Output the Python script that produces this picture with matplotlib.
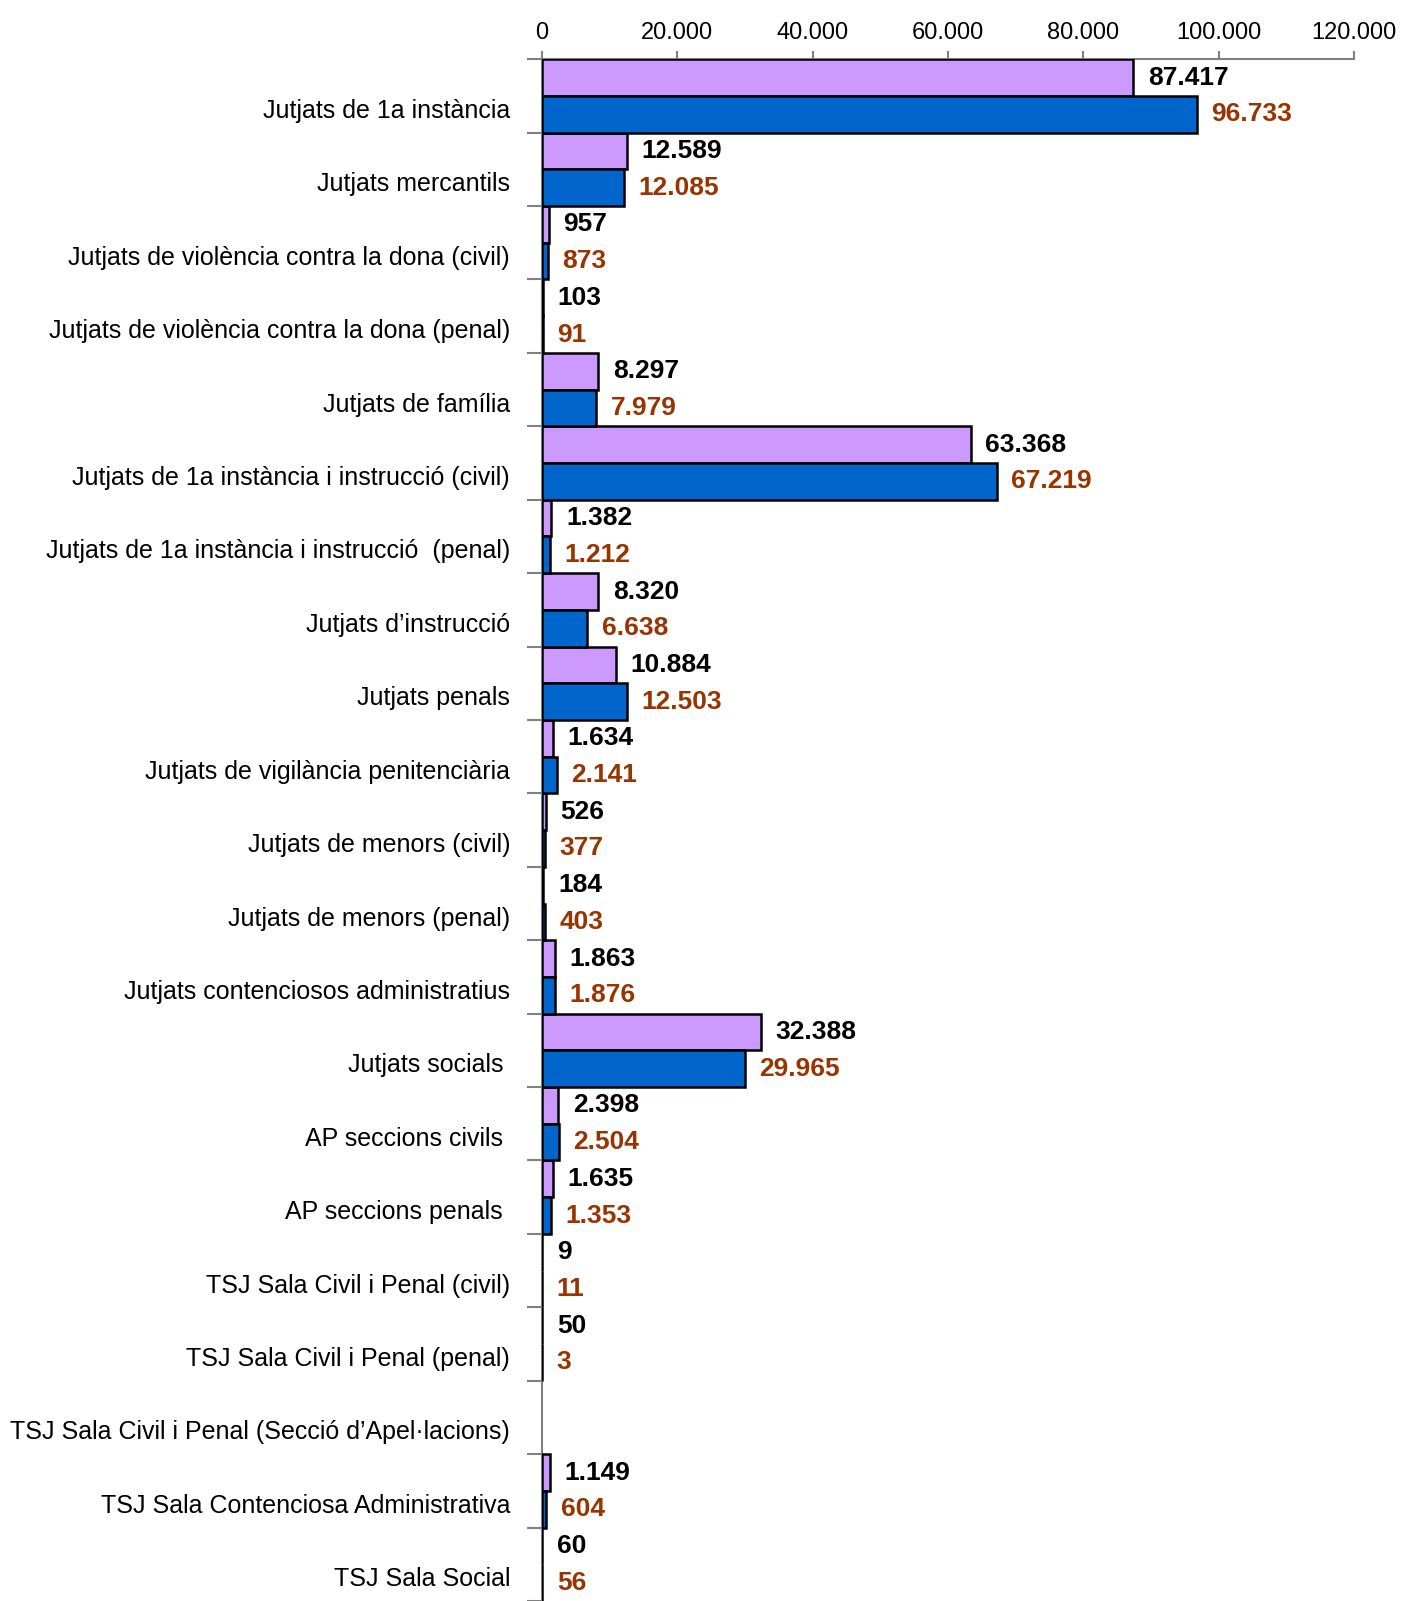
import numpy as np
import matplotlib.pyplot as plt

plt.rcParams['font.family'] = ['Liberation Sans', 'DejaVu Sans']

# dades
categories = [
    'Jutjats de 1a instància',
    'Jutjats mercantils',
    'Jutjats de violència contra la dona (civil)',
    'Jutjats de violència contra la dona (penal)',
    'Jutjats de família',
    'Jutjats de 1a instància i instrucció (civil)',
    'Jutjats de 1a instància i instrucció  (penal)',
    'Jutjats d’instrucció',
    'Jutjats penals',
    'Jutjats de vigilància penitenciària',
    'Jutjats de menors (civil)',
    'Jutjats de menors (penal)',
    'Jutjats contenciosos administratius',
    'Jutjats socials ',
    'AP seccions civils ',
    'AP seccions penals ',
    'TSJ Sala Civil i Penal (civil)',
    'TSJ Sala Civil i Penal (penal)',
    'TSJ Sala Civil i Penal (Secció d’Apel·lacions)',
    'TSJ Sala Contenciosa Administrativa',
    'TSJ Sala Social',
]
serie_1 = [87417, 12589, 957, 103, 8297, 63368, 1382, 8320, 10884, 1634,
           526, 184, 1863, 32388, 2398, 1635, 9, 50, np.nan, 1149, 60]
serie_2 = [96733, 12085, 873, 91, 7979, 67219, 1212, 6638, 12503, 2141,
           377, 403, 1876, 29965, 2504, 1353, 11, 3, np.nan, 604, 56]
x_ticks = [0, 20000, 40000, 60000, 80000, 100000, 120000]


def fmt(v):
    # separador de milers amb punt
    return '{:,}'.format(int(v)).replace(',', '.')


fig = plt.figure(figsize=(14.01, 16.01), dpi=100)
ax = fig.add_axes([0.3869, 0.0, 0.9664 - 0.3869, 0.963])

pos = np.arange(len(categories))
ax.barh(pos - 0.25, serie_1, height=0.5, color='#CC99FF', edgecolor='black', linewidth=1.8, zorder=3)
ax.barh(pos + 0.25, serie_2, height=0.5, color='#0066CC', edgecolor='black', linewidth=1.8, zorder=3)

# etiquetes de valor
for i, (a, b) in enumerate(zip(serie_1, serie_2)):
    if not np.isnan(a):
        ax.annotate(fmt(a), (a, i - 0.25), xytext=(10.5, 0), textcoords='offset points',
                    va='center', ha='left', fontsize=19, fontweight='bold', color='black')
    if not np.isnan(b):
        ax.annotate(fmt(b), (b, i + 0.25), xytext=(10.5, 0), textcoords='offset points',
                    va='center', ha='left', fontsize=19, fontweight='bold', color='#993300')

ax.set_xlim(0, 120000)
ax.set_ylim(-0.5 + 20.9, -0.5)

ax.xaxis.tick_top()
ax.set_xticks(x_ticks)
ax.set_xticklabels([fmt(t) for t in x_ticks], fontsize=17)
ax.tick_params(axis='x', direction='out', length=6, width=1.5, color='#808080', pad=5)

ax.set_yticks(pos + 0.17)
ax.set_yticklabels(categories, fontsize=18)
ax.tick_params(axis='y', which='major', length=0, pad=23)
ax.set_yticks(np.arange(len(categories) + 1) - 0.5, minor=True)
ax.tick_params(axis='y', which='minor', direction='out', length=11, width=1.5, color='#808080')

for side in ['right', 'bottom']:
    ax.spines[side].set_visible(False)
for side in ['top', 'left']:
    ax.spines[side].set_color('#808080')
    ax.spines[side].set_linewidth(1.5)

fig.savefig('out.png', dpi=100)
